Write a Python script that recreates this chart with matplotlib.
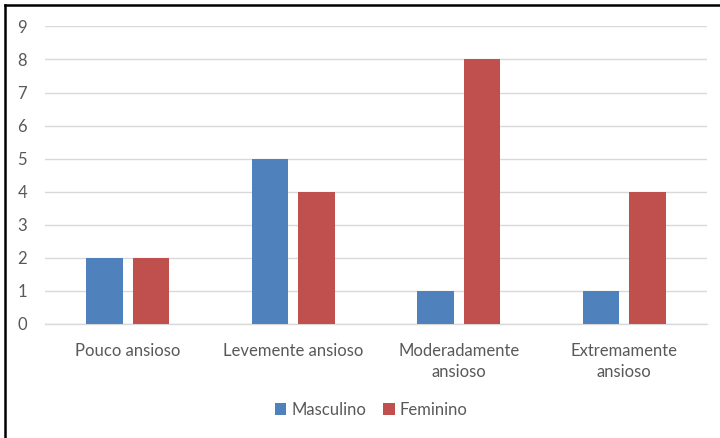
import matplotlib
matplotlib.use("Agg")
import matplotlib.pyplot as plt
from matplotlib.lines import Line2D
import numpy as np

categories = ["Pouco ansioso", "Levemente ansioso", "Moderadamente\nansioso", "Extremamente\nansioso"]
masculino = [2, 5, 1, 1]
feminino = [2, 4, 8, 4]
series_names = ["Masculino", "Feminino"]
y_ticks = list(range(0, 10))

plt.rcParams["font.family"] = ["Lato", "DejaVu Sans"]
text_color = "#595959"
blue = "#4F81BD"
red = "#C0504D"

fig = plt.figure(figsize=(7.2, 4.38), dpi=100)
ax = fig.add_axes([0.0625, 0.2614, 0.9195, 0.6781])

x = np.arange(len(categories))
w = 0.22
off = 0.14
ax.bar(x - off, masculino, width=w, color=blue, label=series_names[0], zorder=3)
ax.bar(x + off, feminino, width=w, color=red, label=series_names[1], zorder=3)

ax.set_xlim(-0.5, len(categories) - 0.5)
ax.set_ylim(0, 9)
ax.set_yticks(y_ticks)
ax.yaxis.grid(True, color="#D9D9D9", linewidth=1, zorder=0)
ax.set_axisbelow(True)
for s in ["top", "right", "left"]:
    ax.spines[s].set_visible(False)
ax.spines["bottom"].set_color("#D9D9D9")
ax.spines["bottom"].set_linewidth(1)
ax.tick_params(axis="both", length=0, colors=text_color, labelsize=12)
ax.tick_params(axis="y", pad=13)
ax.tick_params(axis="x", pad=14)
ax.set_xticks(x)
ax.set_xticklabels(categories, linespacing=1.4)

leg = fig.legend(loc="center", bbox_to_anchor=(371 / 720, 1 - 410 / 438), ncol=2, frameon=False,
                 fontsize=12, handlelength=0.7, handleheight=0.7, handletextpad=0.3,
                 columnspacing=1.0)
for t in leg.get_texts():
    t.set_color(text_color)

# Black frame lines along the top and left edges
fig.add_artist(Line2D([5 / 720, 1.0], [1 - 5 / 438, 1 - 5 / 438], transform=fig.transFigure,
                      color="black", linewidth=1.8))
fig.add_artist(Line2D([5 / 720, 5 / 720], [0, 1 - 5 / 438], transform=fig.transFigure,
                      color="black", linewidth=1.8))

fig.savefig("out.png", dpi=100)
